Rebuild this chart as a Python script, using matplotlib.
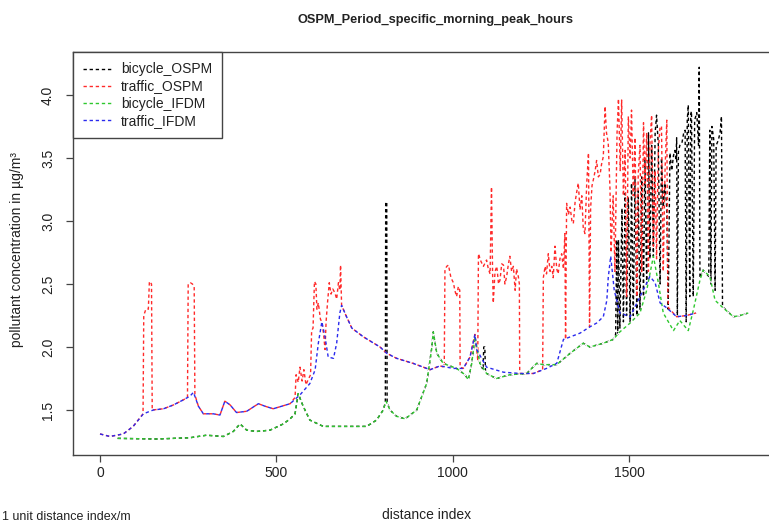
import matplotlib.pyplot as plt

plt.rcParams['font.family'] = ['Liberation Sans', 'DejaVu Sans']

# values: distance index -> concentration
blue_x = [0, 28, 66, 94, 123, 151, 180, 208, 236, 255, 265, 279, 293, 321, 340, 354, 369, 387, 416, 449,
          468, 491, 539, 567, 595, 610, 619, 629, 638, 647, 662, 671, 680, 685, 699, 714, 747, 794, 813, 841,
          888, 936, 964, 1002, 1030, 1049, 1063, 1068, 1096, 1144, 1191, 1229, 1266, 1295, 1314, 1333, 1361,
          1389, 1408, 1427, 1437, 1441, 1448, 1458, 1474, 1503, 1540, 1559, 1574, 1588, 1607, 1635, 1663, 1690]
blue_y = [1.31, 1.29, 1.31, 1.37, 1.47, 1.50, 1.51, 1.54, 1.58, 1.61, 1.64, 1.53, 1.47, 1.47, 1.46, 1.57, 1.54, 1.48, 1.49, 1.55,
          1.53, 1.51, 1.55, 1.62, 1.71, 1.82, 2.03, 2.20, 2.08, 1.92, 1.91, 2.03, 2.27, 2.33, 2.24, 2.15, 2.08, 2.00, 1.95, 1.91,
          1.87, 1.82, 1.85, 1.83, 1.83, 1.92, 2.10, 1.98, 1.84, 1.80, 1.79, 1.79, 1.83, 1.87, 2.06, 2.08, 2.11,
          2.16, 2.19, 2.24, 2.37, 2.55, 2.72, 2.45, 2.27, 2.24, 2.45, 2.56, 2.51, 2.35, 2.31, 2.24, 2.25, 2.27]

green_x = [50, 161, 255, 302, 350, 378, 397, 416, 444, 482, 520, 539, 553, 562, 576, 595, 633, 699, 756, 784,
           803, 811, 822, 841, 865, 898, 926, 940, 945, 955, 973, 1011, 1035, 1044, 1054, 1063, 1077, 1096, 1124,
           1162, 1210, 1238, 1257, 1295, 1333, 1370, 1389, 1427, 1455, 1474, 1503, 1531, 1550, 1569, 1583, 1597,
           1626, 1644, 1668, 1682, 1701, 1710, 1729, 1744, 1767, 1796, 1815, 1838]
green_y = [1.275, 1.27, 1.28, 1.30, 1.29, 1.33, 1.39, 1.34, 1.33, 1.34, 1.39, 1.43, 1.47, 1.63, 1.53, 1.42, 1.37, 1.37, 1.37, 1.42,
           1.50, 1.57, 1.50, 1.45, 1.43, 1.50, 1.71, 1.98, 2.12, 1.95, 1.87, 1.83, 1.78, 1.74, 1.87, 2.08, 1.87, 1.79, 1.75,
           1.78, 1.79, 1.87, 1.86, 1.86, 1.95, 2.03, 2.00, 2.03, 2.06, 2.12, 2.19, 2.27, 2.45, 2.72, 2.51, 2.27,
           2.13, 2.21, 2.13, 2.29, 2.53, 2.61, 2.56, 2.37, 2.31, 2.24, 2.25, 2.27]

red_x = [0, 28, 66, 94, 122, 124, 130, 137, 140, 146, 148, 180, 208, 236, 248, 250, 256, 262, 267, 269,
         279, 293, 321, 340, 354, 369, 387, 416, 449, 468, 491, 539, 553, 556, 562, 567, 573, 578, 584, 590,
         597, 600, 604, 608, 612, 615, 619, 625, 629, 634, 638, 641, 645, 650, 655, 660, 666, 671, 676, 680,
         682, 685, 699, 714, 747, 794, 813, 841, 888, 936, 964, 976, 978, 983, 988, 995, 1002, 1006, 1011, 1016,
         1020, 1021, 1030, 1049, 1063, 1068, 1071, 1073, 1080, 1087, 1096, 1101, 1106, 1110, 1113, 1115, 1120, 1125, 1130, 1134,
         1139, 1144, 1148, 1153, 1158, 1162, 1167, 1172, 1177, 1181, 1186, 1189, 1190, 1229, 1255, 1257, 1262, 1266, 1271, 1276,
         1281, 1285, 1290, 1295, 1299, 1304, 1309, 1314, 1318, 1320, 1323, 1328, 1333, 1338, 1342, 1347, 1351, 1356, 1361, 1366,
         1370, 1375, 1380, 1385, 1388, 1391, 1395, 1399, 1404, 1408, 1413, 1418, 1422, 1427, 1432, 1436, 1441, 1446, 1449, 1455,
         1460, 1466, 1470, 1475, 1479, 1484, 1489, 1493, 1498, 1503, 1507, 1512, 1517, 1522, 1526, 1531, 1536, 1541, 1545, 1550,
         1555, 1559, 1564, 1569, 1574, 1578, 1583, 1588, 1592, 1597, 1602, 1607, 1610, 1612, 1635, 1663, 1690]
red_y = [1.31, 1.29, 1.31, 1.37, 1.47, 2.25, 2.30, 2.30, 2.52, 2.50, 1.50, 1.51, 1.54, 1.58, 1.60, 2.50, 2.51, 2.50, 2.48, 1.62,
         1.53, 1.47, 1.47, 1.46, 1.57, 1.54, 1.48, 1.49, 1.55, 1.53, 1.51, 1.55, 1.60, 1.78, 1.72, 1.84, 1.73, 1.82, 1.70, 1.74,
         1.78, 2.13, 2.15, 2.52, 2.50, 2.30, 2.35, 2.22, 2.20, 2.10, 1.98, 2.20, 2.35, 2.51, 2.42, 2.46, 2.43, 2.38, 2.51, 2.45,
         2.65, 2.33, 2.24, 2.15, 2.08, 2.00, 1.95, 1.91, 1.87, 1.82, 1.85, 1.84, 2.61, 2.64, 2.65, 2.55, 2.51, 2.45, 2.40, 2.48,
         2.45, 1.84, 1.83, 1.92, 2.10, 1.98, 1.90, 2.74, 2.68, 2.64, 2.69, 2.62, 2.58, 3.27, 2.60, 2.35, 2.60, 2.64, 2.50, 2.53,
         2.66, 2.65, 2.50, 2.56, 2.66, 2.72, 2.60, 2.64, 2.45, 2.62, 2.56, 2.50, 1.79, 1.79, 1.82, 2.55, 2.64, 2.58, 2.74, 2.60,
         2.64, 2.55, 2.80, 2.62, 2.58, 2.70, 2.74, 2.62, 2.90, 2.06, 3.14, 3.05, 3.11, 3.00, 2.98, 3.15, 3.22, 3.30, 3.09, 3.20,
         2.95, 2.90, 3.30, 3.54, 2.16, 3.10, 3.28, 3.33, 3.40, 3.48, 3.35, 3.37, 3.45, 3.51, 3.91, 3.70, 3.62, 3.25, 2.75, 3.20,
         2.60, 3.70, 3.97, 3.40, 3.96, 3.20, 3.56, 2.40, 3.83, 3.50, 3.88, 3.20, 3.66, 2.40, 3.37, 3.60, 2.60, 3.78, 3.30, 3.70,
         2.60, 3.60, 3.84, 2.80, 3.40, 2.70, 3.56, 3.75, 3.75, 2.60, 3.40, 3.80, 2.40, 2.31, 2.24, 2.25, 2.27]

black_x = [50, 161, 255, 302, 350, 378, 397, 416, 444, 482, 520, 539, 553, 562, 576, 595, 633, 699, 756, 784,
           803, 809, 810, 813, 814, 822, 841, 865, 898, 926, 940, 945, 955, 973, 1011, 1035, 1044, 1054, 1063, 1077,
           1086, 1088, 1091, 1093, 1096, 1124, 1162, 1210, 1238, 1257, 1295, 1333, 1370, 1389, 1427, 1455, 1462, 1465, 1468, 1470,
           1474, 1480, 1484, 1489, 1493, 1498, 1503, 1507, 1512, 1517, 1522, 1526, 1531, 1536, 1541, 1545, 1550, 1555, 1559, 1564,
           1569, 1574, 1578, 1583, 1588, 1592, 1597, 1602, 1607, 1611, 1616, 1621, 1626, 1630, 1633, 1635, 1637, 1640, 1644, 1650,
           1655, 1659, 1662, 1665, 1668, 1672, 1675, 1677, 1682, 1686, 1692, 1697, 1699, 1701, 1710, 1726, 1729, 1732, 1735, 1740,
           1744, 1747, 1753, 1758, 1762, 1765, 1796, 1815, 1838]
black_y = [1.275, 1.27, 1.28, 1.30, 1.29, 1.33, 1.39, 1.34, 1.33, 1.34, 1.39, 1.43, 1.47, 1.63, 1.53, 1.42, 1.37, 1.37, 1.37, 1.42,
           1.50, 1.56, 3.15, 3.15, 1.56, 1.50, 1.45, 1.43, 1.50, 1.71, 1.98, 2.12, 1.95, 1.87, 1.83, 1.78, 1.74, 1.87, 2.08, 1.87,
           1.82, 2.00, 2.00, 1.80, 1.79, 1.75, 1.78, 1.79, 1.87, 1.86, 1.86, 1.95, 2.03, 2.00, 2.03, 2.06, 2.10, 2.85, 2.10, 2.85,
           2.15, 3.10, 2.20, 3.22, 2.25, 3.19, 2.20, 3.30, 2.25, 3.35, 2.25, 3.24, 2.30, 3.35, 2.40, 3.48, 2.50, 3.70, 2.70, 3.60,
           2.72, 3.70, 3.84, 3.60, 2.50, 3.50, 3.11, 3.30, 3.10, 2.30, 3.54, 3.40, 3.52, 3.56, 3.48, 3.66, 2.25, 3.55, 3.60, 3.62,
           3.70, 3.72, 2.20, 3.80, 3.92, 2.40, 3.85, 3.87, 2.40, 3.80, 3.86, 3.60, 4.22, 2.55, 2.61, 2.56, 3.72, 2.50, 3.75, 3.65,
           2.45, 3.60, 3.64, 3.70, 3.83, 2.32, 2.24, 2.25, 2.27]

x_ticks = [0, 500, 1000, 1500]
y_ticks = [1.5, 2.0, 2.5, 3.0, 3.5, 4.0]

W, H = 769, 525
fig = plt.figure(figsize=(W / 100, H / 100), dpi=100)
# plot box in pixels: left 73, right 780 (cut off), top 52, bottom 455
ax = fig.add_axes([73 / W, 1 - 455 / H, (780 - 73) / W, (455 - 52) / H])

dash = (2.4, 2.0)
ax.plot(black_x, black_y, color='black', lw=1.0, dashes=dash, label='bicycle_OSPM')
ax.plot(red_x, red_y, color='#ff2a2a', lw=1.0, dashes=dash, label='traffic_OSPM')
# white gaps so the black line lying underneath does not show through
ax.plot(green_x, green_y, color='#2ec82e', lw=1.0, dashes=dash, gapcolor='white', label='bicycle_IFDM')
ax.plot(blue_x, blue_y, color='#2a2aee', lw=1.0, dashes=dash, label='traffic_IFDM')

ax.set_xlim(-76.6, 1928)
ax.set_ylim(1.143, 4.341)
ax.set_xticks(x_ticks)
ax.set_xticklabels([str(v) for v in x_ticks])
ax.set_yticks(y_ticks)
ax.set_yticklabels(['%.1f' % v for v in y_ticks], rotation=90, va='center')
ax.tick_params(direction='out', length=5, width=0.9, color='#444444', labelsize=10, labelcolor='#222222')
ax.tick_params(axis='x', pad=3)
ax.tick_params(axis='y', pad=8)
for s in ax.spines.values():
    s.set_color('#444444')
    s.set_linewidth(1.0)

leg = ax.legend(loc='upper left', bbox_to_anchor=(0, 1), borderaxespad=0, fancybox=False,
                edgecolor='#444444', framealpha=1, fontsize=10, handlelength=2.0,
                handletextpad=0.7, labelspacing=0.22, borderpad=0.75)
leg.get_frame().set_linewidth(1.0)
for t in leg.get_texts():
    t.set_color('#222222')

fig.text(436 / W, 1 - 20 / H, 'OSPM_Period_specific_morning_peak_hours', ha='center', va='center',
         fontsize=9.2, fontweight='bold', color='#222222')
fig.text(427 / W, 1 - 515 / H, 'distance index', ha='center', va='center', fontsize=10, color='#222222')
fig.text(17 / W, 1 - 250 / H, 'pollutant concentration in µg/m³', ha='center', va='center',
         rotation=90, fontsize=10, color='#222222')
fig.text(2 / W, 1.5 / H, '1 unit distance index/m', ha='left', va='bottom', fontsize=9, color='#222222')

fig.savefig('out.png', dpi=100)
